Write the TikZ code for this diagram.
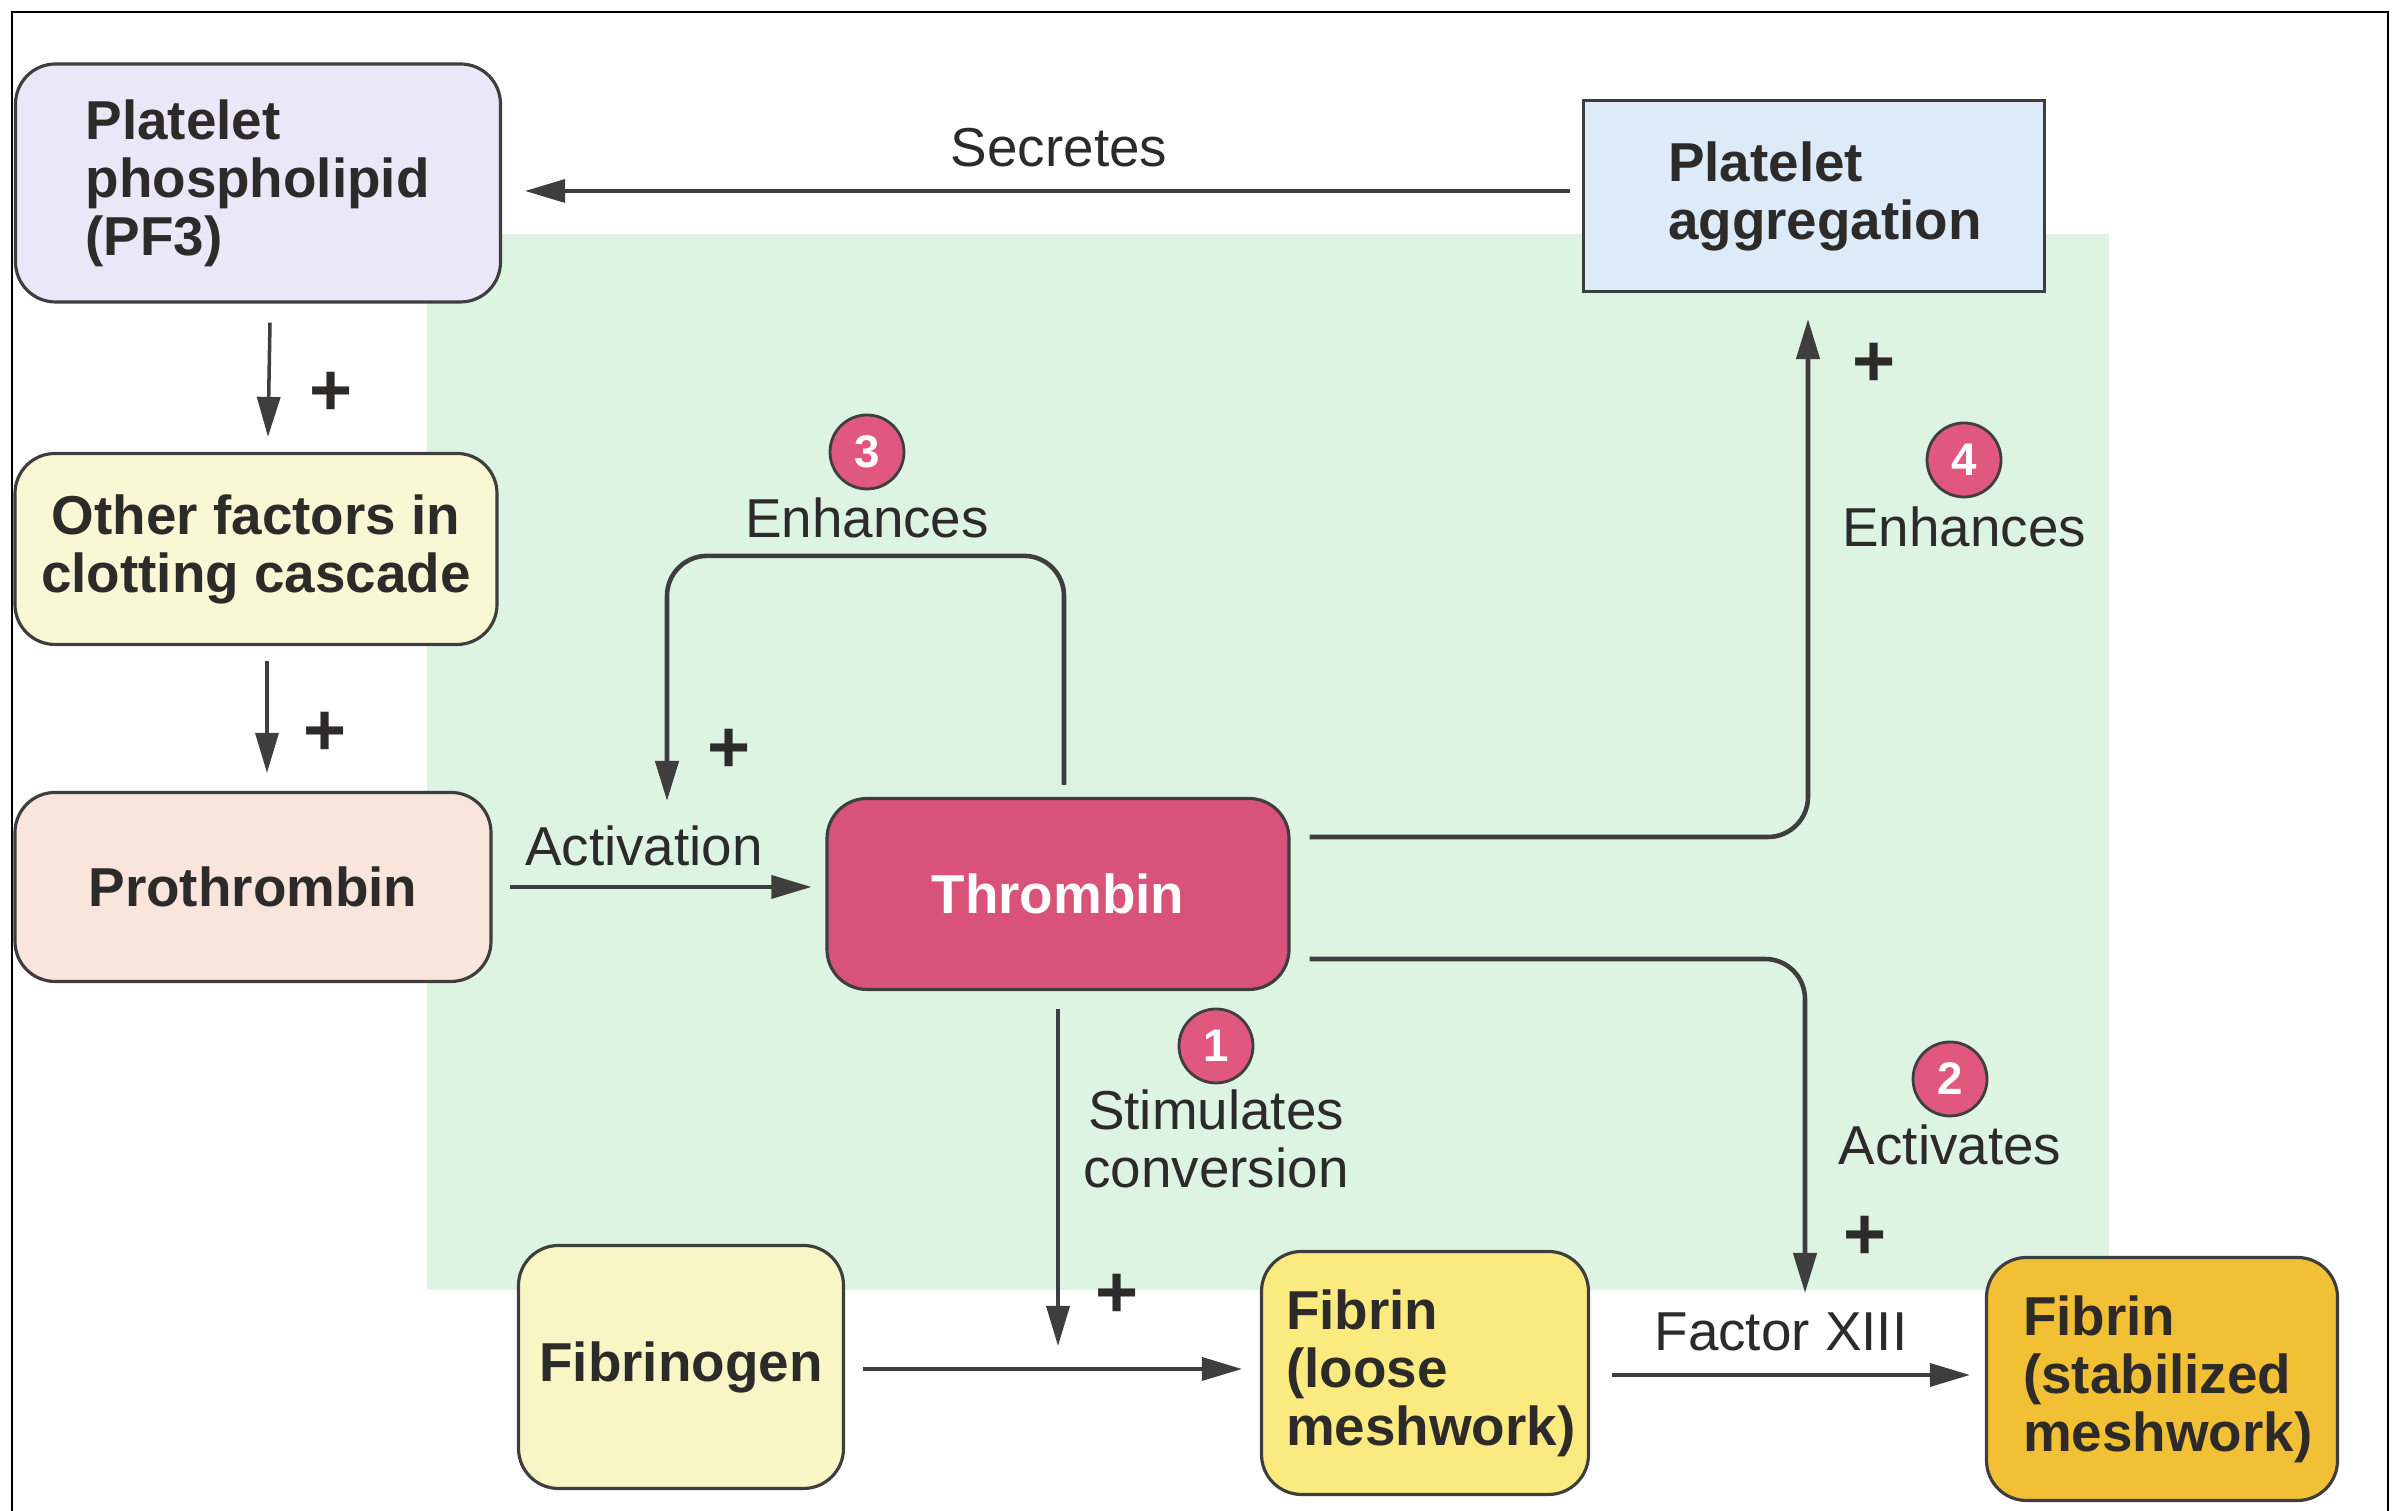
\documentclass[tikz,border=0pt]{standalone}
\usepackage{fontspec}
\setmainfont{Liberation Sans}
\usetikzlibrary{arrows.meta}

\definecolor{bggreen}{RGB}{222,244,227}
\definecolor{lav}{RGB}{233,231,248}
\definecolor{othyel}{RGB}{250,248,212}
\definecolor{propink}{RGB}{250,229,221}
\definecolor{thrpink}{RGB}{216,82,122}
\definecolor{aggblue}{RGB}{221,235,249}
\definecolor{fgyel}{RGB}{248,246,196}
\definecolor{flyel}{RGB}{251,234,128}
\definecolor{fsgold}{RGB}{241,192,52}
\definecolor{numpink}{RGB}{224,88,125}
\definecolor{lineg}{RGB}{62,62,62}
\definecolor{txt}{RGB}{45,42,42}

\begin{document}
\begin{tikzpicture}[font=\fontsize{15.6}{16.5}\selectfont, >={Triangle[length=4mm,width=2.3mm]}]
\tikzstyle{box}=[draw=lineg, line width=0.9pt, rounded corners=4mm, text=txt, inner sep=0pt, font=\fontsize{15.6}{16.5}\selectfont\bfseries]
\tikzstyle{arr}=[->, draw=lineg, line width=1pt]
\tikzstyle{lbl}=[text=txt, inner sep=0pt]
\tikzstyle{plus}=[text=txt, inner sep=0pt, font=\fontsize{21}{21}\selectfont\bfseries]
\tikzstyle{num}=[circle, draw=lineg, line width=0.8pt, fill=numpink, text=white, minimum size=7.4mm, inner sep=0pt, font=\fontsize{13}{13}\selectfont\bfseries]

\useasboundingbox (0,0) rectangle (23.93,15.11);
\fill[bggreen] (4.27,2.21) rectangle (21.09,12.77);
\draw[line width=0.8pt] (0.12,0) -- (0.12,14.99) -- (23.88,14.99) -- (23.88,0);

\node[box, fill=lav, minimum width=4.85cm, minimum height=2.38cm, text width=3.45cm, align=left] (pf) at (2.58,13.28) {Platelet\\phospholipid\\(PF3)};
\node[box, fill=othyel, minimum width=4.82cm, minimum height=1.91cm, align=center] (of) at (2.56,9.62) {Other factors in\\clotting cascade};
\node[box, fill=propink, minimum width=4.76cm, minimum height=1.89cm] (pro) at (2.53,6.24) {Prothrombin};
\node[box, fill=thrpink, text=white, minimum width=4.62cm, minimum height=1.91cm] (thr) at (10.58,6.17) {Thrombin};
\node[box, rounded corners=0pt, fill=aggblue, minimum width=4.61cm, minimum height=1.91cm, text width=2.92cm, align=left] (agg) at (18.14,13.15) {Platelet\\aggregation};
\node[box, fill=fgyel, minimum width=3.25cm, minimum height=2.43cm] (fg) at (6.81,1.44) {Fibrinogen};
\node[box, fill=flyel, minimum width=3.27cm, minimum height=2.43cm, text width=2.78cm, align=left] (fl) at (14.25,1.38) {Fibrin\\(loose\\meshwork)};
\node[box, fill=fsgold, minimum width=3.51cm, minimum height=2.43cm, text width=2.78cm, align=left] (fs) at (21.62,1.32) {Fibrin\\(stabilized\\meshwork)};

\node[lbl] (sec) at (10.59,13.63) {Secretes};
\node[lbl] (act) at (6.44,6.65) {Activation};
\node[num] (n3) at (8.67,10.59) {3};
\node[lbl] (enh3) at (8.67,9.93) {Enhances};
\node[num] (n4) at (19.64,10.51) {4};
\node[lbl] (enh4) at (19.64,9.84) {Enhances};
\node[num] (n1) at (12.16,4.65) {1};
\node[lbl, align=center] (stim) at (12.16,3.72) {Stimulates\\conversion};
\node[num] (n2) at (19.50,4.32) {2};
\node[lbl] (actv) at (19.50,3.66) {Activates};
\node[lbl] (f13) at (17.81,1.79) {Factor XIII};

\node[plus] (p1) at (3.31,11.17) {+};
\node[plus] (p2) at (3.25,7.77) {+};
\node[plus] (p3) at (7.29,7.60) {+};
\node[plus] (p4) at (18.74,11.46) {+};
\node[plus] (p5) at (11.17,2.15) {+};
\node[plus] (p6) at (18.65,2.73) {+};

\coordinate (c1) at (10.58,1.65);
\coordinate (c2) at (18.05,2.18);
\coordinate (c3) at (6.67,7.10);

\draw[arr] ([xshift=1.2mm,yshift=-1.9mm]pf.south) -- ([xshift=1.2mm,yshift=1.5mm]of.north);
\draw[arr] ([xshift=1.1mm,yshift=-1.5mm]of.south) -- ([xshift=1.4mm,yshift=1.8mm]pro.north);
\draw[arr] ([xshift=1.7mm]pro.east) -- ([xshift=-1.4mm]pro.east -| thr.west);
\draw[arr, line width=1.3pt, rounded corners=4mm] ([xshift=0.6mm,yshift=1.2mm]thr.north) -- ++(0,2.29) -| (c3);
\draw[arr, line width=1.3pt, rounded corners=4mm] ([xshift=1.9mm,yshift=5.7mm]thr.east) -| ([xshift=-0.6mm,yshift=-2.6mm]agg.south);
\draw[arr, line width=1.3pt, rounded corners=4mm] ([xshift=1.9mm,yshift=-6.5mm]thr.east) -| (c2);
\draw[arr] ([yshift=-1.8mm]thr.south) -- (c1);
\draw[arr] ([xshift=-1.2mm,yshift=0.5mm]agg.west) -- ([xshift=2.3mm,yshift=0.5mm]agg.west -| pf.east);
\draw[arr] ([xshift=1.8mm,yshift=-0.2mm]fg.east) -- ([xshift=-1.8mm,yshift=-0.2mm]fg.east -| fl.west);
\draw[arr] ([xshift=2.2mm,yshift=-0.2mm]fl.east) -- ([xshift=-1.5mm,yshift=-0.2mm]fl.east -| fs.west);

\end{tikzpicture}
\end{document}
